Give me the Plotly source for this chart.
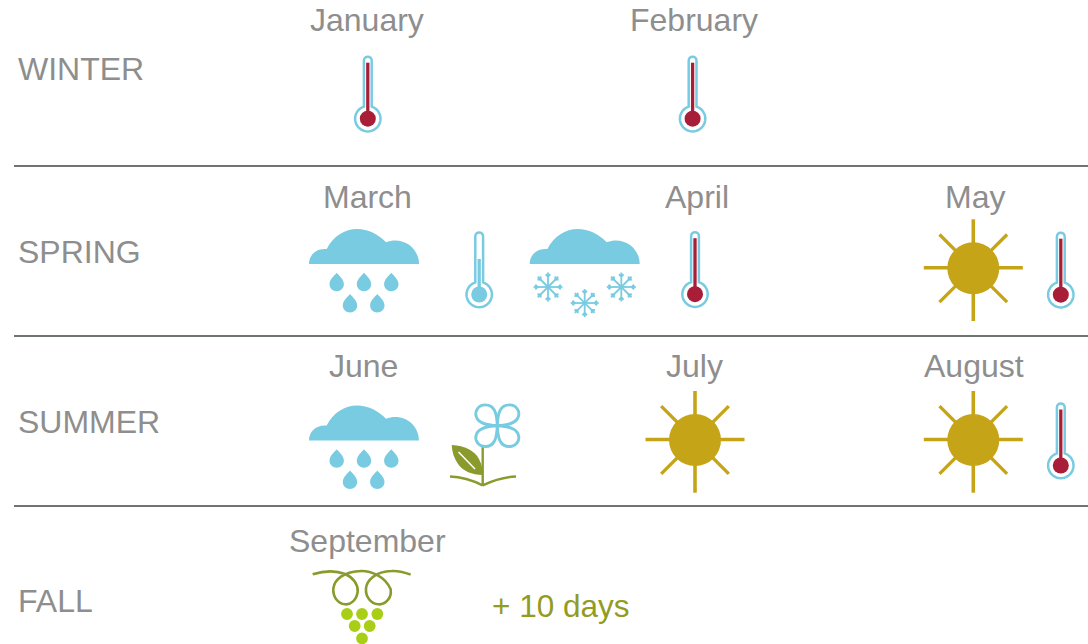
import math
import plotly.graph_objects as go

# ---- content ----
seasons = ["WINTER", "SPRING", "SUMMER", "FALL"]
months = ["January", "February", "March", "April", "May", "June",
          "July", "August", "September"]
note = "+ 10 days"

# ---- layout of the texts (pixel-like axis units) ----
season_x = 16
season_y = [69, 252, 422, 601]
month_x = [367, 694, 367, 696.5, 975, 363, 694, 974, 367.5]
month_y = [20, 20, 197, 197, 196.5, 365.5, 365.5, 365.5, 541]
rule_y = [166, 336, 506]

# ---- icon placement ----
hot_thermo = [(367.8, 118.7), (692.6, 118.7), (695, 294.2), (1060.8, 294.7), (1060.8, 465.5)]
cold_thermo = [(479.2, 294.5)]
rain_cloud = [(309, 264), (309, 440.5)]
snow_cloud = [(529.7, 264)]
suns = [(973.3, 268.3), (695, 440), (973.3, 440)]
flower_at = (497.3, 425.7)
grape_at = (362, 614)

BLUE = "#78CBE1"
RED = "#A81D38"
GOLD = "#C6A417"
OLIVE = "#8B9A2C"
LIME = "#A9CE16"
TEXT = "#8E8E8E"
NOTE = "#929B22"
RULE = "#6F7372"
FONT = "Liberation Sans, Arial, sans-serif"

shapes = []


def path(d, fill=None, line=None, width=0):
    shapes.append(dict(type="path", path=d, xref="x", yref="y",
                       fillcolor=fill if fill else "rgba(0,0,0,0)",
                       line=dict(color=line if line else "rgba(0,0,0,0)", width=width)))


def circle(cx, cy, r, fill=None, line=None, width=0):
    shapes.append(dict(type="circle", xref="x", yref="y",
                       x0=cx - r, x1=cx + r, y0=cy - r, y1=cy + r,
                       fillcolor=fill if fill else "rgba(0,0,0,0)",
                       line=dict(color=line if line else "rgba(0,0,0,0)", width=width)))


def seg(x0, y0, x1, y1, color, width):
    shapes.append(dict(type="line", xref="x", yref="y", x0=x0, y0=y0, x1=x1, y1=y1,
                       line=dict(color=color, width=width)))


def rel(ox, oy, cmds):
    out = []
    for c in cmds:
        if isinstance(c, str):
            out.append(c)
        else:
            out.append(f"{ox + c[0]:.2f},{oy + c[1]:.2f}")
    return " ".join(out)


def thermometer(cx, cy, color, bar_top):
    hw, R = 3.9, 12.7
    a0 = math.asin(hw / R)
    pts = []
    for i in range(41):
        a = -math.pi / 2 + a0 + (2 * math.pi - 2 * a0) * i / 40
        pts.append((cx + R * math.cos(a), cy + R * math.sin(a)))
    d = f"M {pts[0][0]:.2f},{pts[0][1]:.2f} "
    d += " ".join(f"L {x:.2f},{y:.2f}" for x, y in pts[1:])
    d += " " + rel(cx, cy, ["L", (-hw, -58), "C", (-hw, -63.3), (hw, -63.3), (hw, -58), "Z"])
    path(d, None, BLUE, 2.5)
    seg(cx, cy - 4, cx, cy - bar_top, color, 3.3)
    circle(cx, cy, 8, color)


def cloud(ox, oy):
    d = rel(ox, oy, ["M", (0, 0), "C", (0, -9), (7, -16), (17.7, -15),
                     "C", (24, -28), (36, -35), (48, -35),
                     "C", (59, -35), (69, -30), (77, -21.7),
                     "C", (94, -28), (110, -16), (110, 0), "Z"])
    path(d, BLUE)


def drop(cx, ty, r):
    d = rel(cx, ty, ["M", (0, 0), "C", (2.5, 3), (r, 6.5), (r, 11.6),
                     "C", (r, 15.5), (3.9, 18.6), (0, 18.6),
                     "C", (-3.9, 18.6), (-r, 15.5), (-r, 11.6),
                     "C", (-r, 6.5), (-2.5, 3), (0, 0), "Z"])
    path(d, BLUE)


def rain(ox, oy):
    cloud(ox, oy)
    for dx in (27.7, 55, 82.3):
        drop(ox + dx, oy + 8.7, 7.2)
    for dx in (41, 68.3):
        drop(ox + dx, oy + 30, 7.2)


def flake(cx, cy, r):
    for k in range(4):
        a = k * math.pi / 4
        ux, uy = math.cos(a), math.sin(a)
        seg(cx - ux * r, cy - uy * r, cx + ux * r, cy + uy * r, BLUE, 1.8)
        for s in (-1, 1):
            bx, by = cx + s * ux * (r - 4), cy + s * uy * (r - 4)
            for t in (-1, 1):
                bb = a + t * math.pi / 4
                vx, vy = s * math.cos(bb), s * math.sin(bb)
                seg(bx, by, bx + vx * 3.2, by + vy * 3.2, BLUE, 2)


def snow(ox, oy):
    cloud(ox, oy)
    flake(ox + 18.3, oy + 23, 14.5)
    flake(ox + 55, oy + 39, 14)
    flake(ox + 91.6, oy + 23, 14.5)


def sun(cx, cy):
    seg(cx, cy - 49, cx, cy + 52.7, GOLD, 3.6)
    seg(cx - 49.5, cy - 0.5, cx + 49.5, cy - 0.5, GOLD, 3.6)
    for sx in (-1, 1):
        for sy in (-1, 1):
            seg(cx, cy, cx + sx * 33.8, cy + sy * 33.8, GOLD, 3.3)
    circle(cx, cy, 26, GOLD)


def flower(cx, cy):
    # ground and stem
    path("M 450,476.5 C 463,477 474,481 482.7,485.3", None, OLIVE, 2.4)
    path("M 516,476.5 C 503,477 492,481 482.7,485.3", None, OLIVE, 2.4)
    seg(482.7, 447, 482.7, 486, OLIVE, 2.4)
    # leaf
    path("M 451.7,445 C 465,446 474,450 479,459 C 482,465 483,470 482.7,475 "
         "C 472,475 463,471 458,464 C 454,458 452,452 451.7,445 Z", OLIVE)
    seg(458.5, 452, 475, 469, "white", 1.5)
    # petals
    for sx in (-1, 1):
        for sy in (-1, 1):
            d = rel(cx, cy, ["M", (0, 0), "C", (sx * 0.5, sy * 13), (sx * 3, sy * 20.8), (sx * 12, sy * 20.8),
                             "C", (sx * 19, sy * 20.8), (sx * 23, sy * 14.5), (sx * 21, sy * 9),
                             "C", (sx * 19, sy * 2), (sx * 10, sy * 0.5), (0, 0), "Z"])
            path(d, None, BLUE, 2.9)


def grape(cx, cy):
    # all vine coordinates are relative to the middle of the top row of grapes
    def P(zx, zy):
        return ((zx - 186) / 3, (zy - 162) / 3)
    d = rel(cx, cy, ["M", P(38, 43), "C", P(70, 33), P(105, 30), P(135, 42),
                     "C", P(160, 52), P(175, 75), P(173, 95),
                     "C", P(170, 120), P(152, 135), P(135, 133),
                     "C", P(115, 131), P(98, 112), P(100, 85),
                     "C", P(103, 60), P(130, 34), P(185, 33),
                     "C", P(212, 33), P(255, 48), P(272, 88),
                     "C", P(276, 115), P(255, 135), P(235, 133),
                     "C", P(212, 131), P(196, 110), P(198, 85),
                     "C", P(200, 62), P(225, 34), P(275, 33),
                     "C", P(295, 32), P(315, 37), P(332, 44)])
    path(d, None, OLIVE, 2.6)
    for zx, zy in [(141, 162), (186, 162), (232, 162), (164, 198), (209, 198), (186, 235)]:
        x, y = P(zx, zy)
        circle(cx + x, cy + y, 5.9, LIME)


for y in rule_y:
    seg(14, y, 1088, y, RULE, 1.8)
for c in hot_thermo:
    thermometer(c[0], c[1], RED, 56)
for c in cold_thermo:
    thermometer(c[0], c[1], BLUE, 35.5)
for c in rain_cloud:
    rain(*c)
for c in snow_cloud:
    snow(*c)
for c in suns:
    sun(*c)
flower(*flower_at)
grape(*grape_at)

annotations = []
for t, y in zip(seasons, season_y):
    annotations.append(dict(text=t, x=season_x, y=y, xanchor="left", yanchor="middle",
                            showarrow=False, xref="x", yref="y",
                            font=dict(family=FONT, size=32, color=TEXT)))
for t, x, y in zip(months, month_x, month_y):
    annotations.append(dict(text=t, x=x, y=y, xanchor="center", yanchor="middle",
                            showarrow=False, xref="x", yref="y",
                            font=dict(family=FONT, size=32, color=TEXT)))
annotations.append(dict(text=note, x=489.5, y=606, xanchor="left", yanchor="middle",
                        showarrow=False, xref="x", yref="y",
                        font=dict(family=FONT, size=31.5, color=NOTE)))

fig = go.Figure()
fig.update_layout(width=1088, height=644, margin=dict(l=0, r=0, t=0, b=0),
                  plot_bgcolor="white", paper_bgcolor="white", showlegend=False,
                  xaxis=dict(range=[0, 1088], visible=False, fixedrange=True),
                  yaxis=dict(range=[644, 0], visible=False, fixedrange=True),
                  shapes=shapes, annotations=annotations)
fig.write_html("out.html", config=dict(displayModeBar=False),
               post_script="document.body.style.margin='0';document.body.style.overflow='hidden';")
